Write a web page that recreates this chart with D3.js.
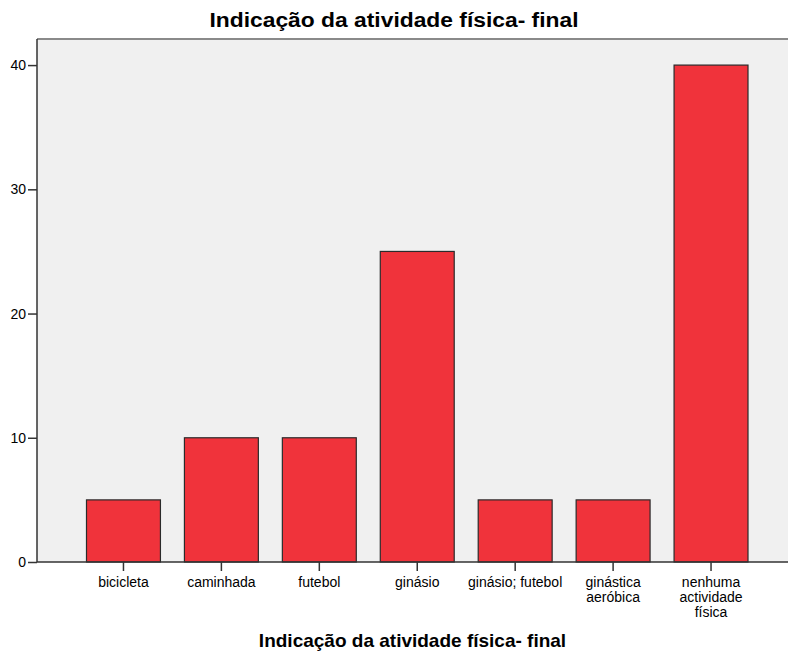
<!DOCTYPE html>
<html>
<head>
<meta charset="utf-8">
<script src="https://cdn.jsdelivr.net/npm/d3@7"></script>
<style>
  html, body { margin: 0; padding: 0; background: #ffffff; }
  svg { display: block; }
  text { font-family: "Liberation Sans", Arial, sans-serif; fill: #000; }
</style>
</head>
<body>
<svg id="chart" width="788" height="653"></svg>
<script>
// Activity categories (multi-line labels split on "|")
const categories = [
  "bicicleta",
  "caminhada",
  "futebol",
  "ginásio",
  "ginásio; futebol",
  "ginástica|aeróbica",
  "nenhuma|actividade|física"
];
// Counts per category
const counts = [5, 10, 10, 25, 5, 5, 40];
// Y axis tick values
const yTicks = [0, 10, 20, 30, 40];

const chartTitle = "Indicação da atividade física- final";
const xTitle = "Indicação da atividade física- final";

const svg = d3.select("#chart");
const plot = { left: 37, right: 790, top: 39, bottom: 562 };

const x = d3.scaleBand()
  .domain(categories)
  .range([74.5, 760])
  .paddingInner(0.245)
  .paddingOuter(0.1225);

const y = d3.scaleLinear()
  .domain([0, 42.1])
  .range([plot.bottom, plot.top]);

// plot background
svg.append("rect")
  .attr("x", plot.left)
  .attr("y", plot.top)
  .attr("width", plot.right - plot.left)
  .attr("height", plot.bottom - plot.top)
  .attr("fill", "#f0f0f0");

// top frame line
svg.append("line")
  .attr("x1", plot.left).attr("x2", plot.right)
  .attr("y1", plot.top).attr("y2", plot.top)
  .attr("stroke", "#8a8a8a").attr("stroke-width", 2);

// bars
svg.append("g")
  .selectAll("rect")
  .data(categories)
  .join("rect")
  .attr("x", d => x(d))
  .attr("y", (d, i) => y(counts[i]))
  .attr("width", x.bandwidth())
  .attr("height", (d, i) => y(0) - y(counts[i]))
  .attr("fill", "#f0333b")
  .attr("stroke", "#2b2b2b")
  .attr("stroke-width", 1.2);

// Y axis
const yAxis = d3.axisLeft(y)
  .tickValues(yTicks)
  .tickSize(9)
  .tickPadding(2)
  .tickFormat(d3.format("d"));
const yg = svg.append("g")
  .attr("transform", `translate(${plot.left},0)`)
  .call(yAxis);
yg.select(".domain").attr("stroke", "#333").attr("stroke-width", 1.5)
  .attr("d", `M0,${plot.top}V${plot.bottom}`);
yg.selectAll(".tick line").attr("stroke", "#333").attr("stroke-width", 1.5);
yg.selectAll(".tick text")
  .style("font-family", "'Liberation Sans', Arial, sans-serif")
  .style("font-size", "14px")
  .attr("fill", "#222");

// X axis
const xAxis = d3.axisBottom(x).tickSize(9).tickPadding(5);
const xg = svg.append("g")
  .attr("transform", `translate(0,${plot.bottom})`)
  .call(xAxis);
xg.select(".domain").attr("stroke", "#333").attr("stroke-width", 1.5)
  .attr("d", `M${plot.left},0H${plot.right}`);
xg.selectAll(".tick line").attr("stroke", "#333").attr("stroke-width", 1.5);
xg.selectAll(".tick text").each(function (d) {
  const t = d3.select(this);
  t.text(null)
    .style("font-family", "'Liberation Sans', Arial, sans-serif")
    .style("font-size", "14px")
    .attr("fill", "#222")
    .attr("dy", null)
    .attr("y", 25);
  d.split("|").forEach((line, i) => {
    t.append("tspan")
      .attr("x", 0)
      .attr("y", 25 + i * 15)
      .text(line);
  });
});

// chart title (wide bold face)
svg.append("text")
  .attr("x", 394)
  .attr("y", 27)
  .attr("text-anchor", "middle")
  .attr("textLength", 369)
  .attr("lengthAdjust", "spacingAndGlyphs")
  .style("font-size", "20px")
  .style("font-weight", "bold")
  .text(chartTitle);

// x axis title
svg.append("text")
  .attr("x", 412.5)
  .attr("y", 647)
  .attr("text-anchor", "middle")
  .style("font-size", "19px")
  .style("font-weight", "bold")
  .text(xTitle);
</script>
</body>
</html>
